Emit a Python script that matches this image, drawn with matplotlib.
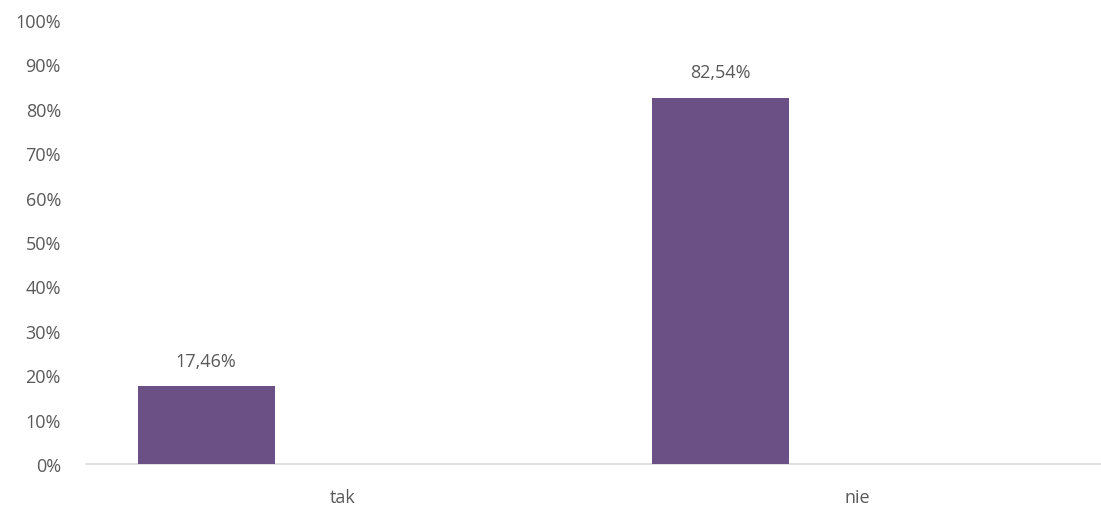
import matplotlib
matplotlib.use('Agg')
import matplotlib.pyplot as plt
import numpy as np

# ── Data ────────────────────────────────────────────────────────────
categories = ['tak', 'nie']
values     = [17.46, 82.54]          # percent
y_ticks    = list(range(0, 101, 10))

bar_color  = '#6A5085'
text_color = '#595959'

plt.rcParams['font.family'] = ['Open Sans', 'DejaVu Sans']

fig = plt.figure(figsize=(11.01, 5.06), dpi=100)
# plot area runs slightly past the right edge, as in the source
ax = fig.add_axes([86 / 1101, 41 / 506, 1028 / 1101, 444 / 506])

x = np.arange(len(categories))
width = 0.2665
# only the first of three series slots carries data
bars = ax.bar(x - width, values, width=width, color=bar_color, zorder=3)

for rect, v in zip(bars, values):
    ax.text(rect.get_x() + rect.get_width() / 2, v + 3.8,
            f'{v:.2f}%'.replace('.', ','),
            ha='center', va='bottom', fontsize=13, color=text_color)

ax.set_xlim(-0.5, len(categories) - 0.5)
ax.set_ylim(0, 100)
ax.set_yticks(y_ticks)
ax.set_yticklabels([f'{t}%' for t in y_ticks])
ax.set_xticks(x)
ax.set_xticklabels(categories)

ax.tick_params(axis='both', length=0, labelsize=13, colors=text_color)
ax.tick_params(axis='y', pad=18)
ax.tick_params(axis='x', pad=17)

for side in ['top', 'right', 'left']:
    ax.spines[side].set_visible(False)
ax.spines['bottom'].set_color('#D9D9D9')
ax.spines['bottom'].set_linewidth(1.2)

plt.savefig('out.png', dpi=100)
print("Saved out.png")
